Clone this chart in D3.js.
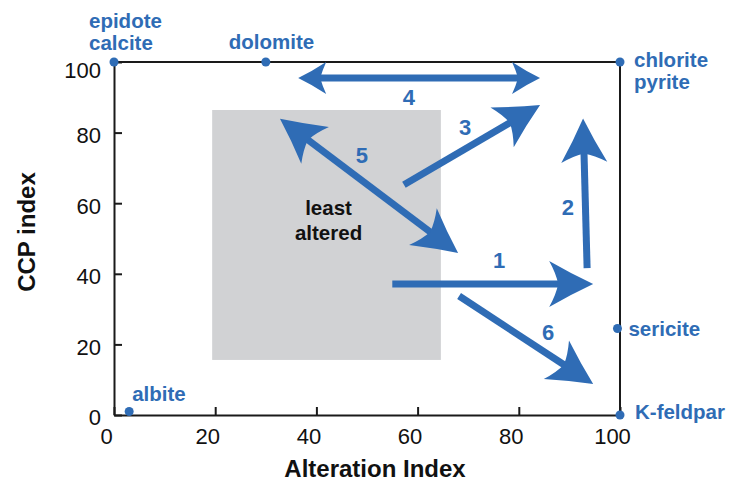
<!DOCTYPE html>
<html>
<head>
<meta charset="utf-8">
<script src="https://cdn.jsdelivr.net/npm/d3@7"></script>
<style>
  html, body { margin: 0; padding: 0; background: #fff; }
  svg { display: block; font-family: "Liberation Sans", Arial, Helvetica, sans-serif; }
</style>
</head>
<body>
<svg id="chart" width="731" height="482"></svg>
<script>
// ---------- data ----------
const xTicks = [0, 20, 40, 60, 80, 100];
const yTicks = [0, 20, 40, 60, 80, 100];
const xTitle = "Alteration Index";
const yTitle = "CCP index";

const mineralNames = ["epidote\ncalcite", "dolomite", "chlorite\npyrite", "sericite", "K-feldpar", "albite"];
const mineralAI  = [0, 30, 100, 99.5, 100, 3];
const mineralCCP = [100, 100, 100, 24.5, 0, 1];

const boxAI  = [19.4, 64.6];
const boxCCP = [15.6, 86.4];
const boxLabel = ["least", "altered"];
const boxLabelAI = 42.4;
const boxLabelCCP = 53;

const arrowIds      = ["1", "2", "3", "4", "5", "6"];
const arrowStartAI  = [55, 93.5, 57.3, 36.4, 32.8, 68.2];
const arrowStartCCP = [37.1, 41.6, 65.2, 95.5, 83.9, 33.7];
const arrowEndAI    = [94.7, 92.7, 84.2, 84.2, 68.0, 94.7];
const arrowEndCCP   = [37.1, 84.0, 87.8, 95.5, 45.9, 8.8];
const arrowDouble   = [false, false, false, true, true, false];
const arrowLabelAI  = [76.1, 89.7, 69.4, 58.3, 49.0, 85.8];
const arrowLabelCCP = [43.9, 58.9, 81.6, 90.1, 73.7, 23.5];

// ---------- layout ----------
const blue = "#2f6cb5";
const svg = d3.select("#chart");
const x = d3.scaleLinear().domain([0, 100]).range([114, 620]);
const y = d3.scaleLinear().domain([0, 100]).range([415, 62]);

// gray box
svg.append("rect")
  .attr("x", x(boxAI[0])).attr("y", y(boxCCP[1]))
  .attr("width", x(boxAI[1]) - x(boxAI[0]))
  .attr("height", y(boxCCP[0]) - y(boxCCP[1]))
  .attr("fill", "#d1d2d4");

const bl = svg.append("text")
  .attr("text-anchor", "middle")
  .attr("font-size", 20.5).attr("font-weight", "bold").attr("fill", "#111");
boxLabel.forEach((t, i) => {
  bl.append("tspan")
    .attr("x", x(boxLabelAI))
    .attr("y", y(boxLabelCCP) - 13 + i * 25)
    .text(t);
});

// frame (top & right lines)
svg.append("path")
  .attr("d", `M${x(0)},${y(100)}H${x(100)}V${y(0)}`)
  .attr("fill", "none").attr("stroke", "#1a1a1a").attr("stroke-width", 2);

// axes
const gx = svg.append("g").attr("transform", `translate(0,${y(0)})`)
  .call(d3.axisBottom(x).tickValues(xTicks).tickSizeInner(-8).tickSizeOuter(0).tickPadding(0));
const gy = svg.append("g").attr("transform", `translate(${x(0)},0)`)
  .call(d3.axisLeft(y).tickValues(yTicks).tickSizeInner(-8).tickSizeOuter(0).tickPadding(13));
[gx, gy].forEach(g => {
  g.select(".domain").attr("stroke", "#1a1a1a").attr("stroke-width", 2);
  g.selectAll(".tick line").attr("stroke", "#1a1a1a").attr("stroke-width", 2);
  g.selectAll(".tick text").attr("font-size", 22).attr("fill", "#111")
    .attr("font-family", "'Liberation Sans', Arial, sans-serif");
});
gx.selectAll(".tick text").attr("y", 21).attr("dy", "0.35em").attr("dx", -8);
gy.selectAll(".tick text").attr("dy", (d) => d === 100 ? "0.7em" : "0.45em");

// axis titles
svg.append("text").attr("x", 375).attr("y", 477)
  .attr("text-anchor", "middle").attr("font-size", 24).attr("font-weight", "bold").attr("fill", "#111")
  .text(xTitle);
svg.append("text").attr("transform", "translate(35,232) rotate(-90)")
  .attr("text-anchor", "middle").attr("font-size", 24).attr("font-weight", "bold").attr("fill", "#111")
  .text(yTitle);

// mineral points
const labelOffsets = [[-25, -41], [-37, -20], [14, -2], [11, 0], [15, -3], [3, -18]];
mineralNames.forEach((name, i) => {
  const px = x(mineralAI[i]), py = y(mineralCCP[i]);
  svg.append("circle").attr("cx", px).attr("cy", py).attr("r", 4.5).attr("fill", blue);
  const lines = name.split("\n");
  const t = svg.append("text")
    .attr("font-size", 20.5).attr("font-weight", "bold").attr("fill", blue);
  lines.forEach((ln, j) => {
    t.append("tspan")
      .attr("x", px + labelOffsets[i][0])
      .attr("y", py + labelOffsets[i][1] + j * 22)
      .attr("dy", "0.35em")
      .text(ln);
  });
});

// arrows
function headPath(T, u, L, W, d) {
  const n = [-u[1], u[0]];
  const P = (a, b) => [T[0] + a * u[0] + b * n[0], T[1] + a * u[1] + b * n[1]];
  const w1 = P(-L, W), w2 = P(-L, -W), nt = P(-(L - d), 0);
  const c1 = P(-(L - d) - 2, W * 0.45), c2 = P(-(L - d) - 2, -W * 0.45);
  const s1 = P(-L / 2, W / 2 - 1.2), s2 = P(-L / 2, -W / 2 + 1.2);
  return `M${T}Q${s1} ${w1}Q${c1} ${nt}Q${c2} ${w2}Q${s2} ${T}Z`;
}
arrowIds.forEach((id, i) => {
  const S = [x(arrowStartAI[i]), y(arrowStartCCP[i])];
  const E = [x(arrowEndAI[i]), y(arrowEndCCP[i])];
  const len = Math.hypot(E[0] - S[0], E[1] - S[1]);
  const u = [(E[0] - S[0]) / len, (E[1] - S[1]) / len];
  const small = arrowDouble[i] && i === 3;
  const L = small ? 28 : 44;
  const W = small ? 16 : 23;
  const d = small ? 6 : 9;
  const inset = L - d - 1;
  const a0 = arrowDouble[i] ? [S[0] + u[0] * inset, S[1] + u[1] * inset] : S;
  const a1 = [E[0] - u[0] * inset, E[1] - u[1] * inset];
  const g = svg.append("g");
  g.append("line").attr("x1", a0[0]).attr("y1", a0[1]).attr("x2", a1[0]).attr("y2", a1[1])
    .attr("stroke", blue).attr("stroke-width", 7);
  g.append("path").attr("d", headPath(E, u, L, W, d)).attr("fill", blue);
  if (arrowDouble[i]) {
    g.append("path").attr("d", headPath(S, [-u[0], -u[1]], L, W, d)).attr("fill", blue);
  }
  svg.append("text")
    .attr("x", x(arrowLabelAI[i])).attr("y", y(arrowLabelCCP[i]))
    .attr("dy", "0.35em").attr("text-anchor", "middle")
    .attr("font-size", 22).attr("font-weight", "bold").attr("fill", blue)
    .text(id);
});
</script>
</body>
</html>
